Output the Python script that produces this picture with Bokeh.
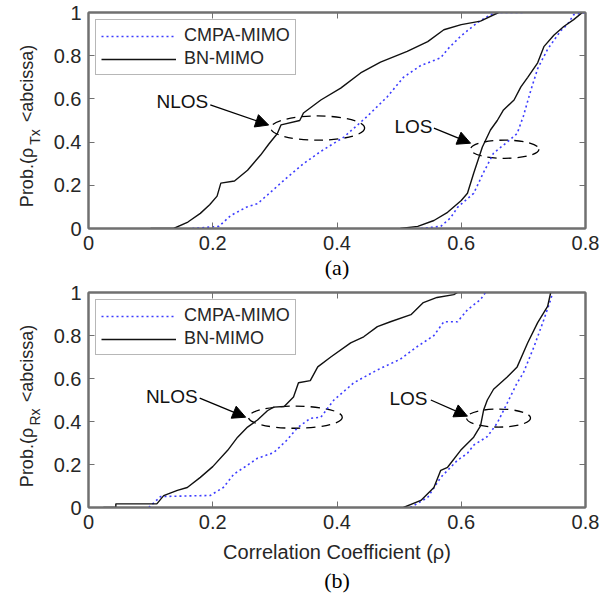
import math
from bokeh.plotting import figure
from bokeh.layouts import column, row
from bokeh.models import (LinearAxis, FixedTicker, Legend, LegendItem, Label,
                          Arrow, NormalHead, Title, Range1d)
from bokeh.core.properties import value
from bokeh.embed import file_html
from bokeh.resources import INLINE

# ---------------- data ----------------
x_ticks = [0, 0.2, 0.4, 0.6, 0.8]
y_ticks = [0, 0.2, 0.4, 0.6, 0.8, 1]
series_names = ["CMPA-MIMO", "BN-MIMO"]

# (a) Tx correlation CDFs
a_nlos_bn_x = [0.10, 0.137, 0.16, 0.18, 0.195, 0.207, 0.213, 0.235, 0.256, 0.277, 0.29, 0.304, 0.31,
               0.34, 0.346, 0.374, 0.406, 0.438, 0.47, 0.513, 0.546, 0.572, 0.60, 0.631, 0.66]
a_nlos_bn_y = [0, 0, 0.03, 0.07, 0.11, 0.15, 0.21, 0.22, 0.27, 0.34, 0.39, 0.44, 0.48,
               0.50, 0.535, 0.595, 0.65, 0.72, 0.77, 0.82, 0.865, 0.92, 0.944, 0.96, 1.0]
a_nlos_cm_x = [0.167, 0.21, 0.229, 0.255, 0.272, 0.288, 0.32, 0.346, 0.374, 0.411, 0.449, 0.481,
               0.507, 0.535, 0.567, 0.578, 0.599, 0.626, 0.647, 0.663, 0.70]
a_nlos_cm_y = [0, 0.01, 0.06, 0.10, 0.115, 0.155, 0.237, 0.30, 0.357, 0.423, 0.52, 0.61,
               0.70, 0.755, 0.79, 0.83, 0.89, 0.953, 0.99, 1.0, 1.0]
a_los_bn_x = [0.502, 0.53, 0.556, 0.578, 0.60, 0.61, 0.62, 0.634, 0.647, 0.658, 0.668, 0.685,
              0.696, 0.707, 0.723, 0.733, 0.749, 0.765, 0.781, 0.795]
a_los_bn_y = [0, 0.01, 0.037, 0.075, 0.13, 0.163, 0.256, 0.377, 0.456, 0.50, 0.549, 0.595,
              0.656, 0.70, 0.767, 0.842, 0.895, 0.935, 0.967, 1.0]
a_los_cm_x = [0.535, 0.567, 0.583, 0.594, 0.62, 0.636, 0.652, 0.674, 0.69, 0.70, 0.712, 0.723,
              0.739, 0.76, 0.771, 0.781, 0.80]
a_los_cm_y = [0, 0.01, 0.05, 0.098, 0.163, 0.26, 0.349, 0.40, 0.44, 0.52, 0.64, 0.74,
              0.83, 0.915, 0.945, 0.99, 1.0]

# (b) Rx correlation CDFs
b_nlos_bn_x = [0.024, 0.044, 0.044, 0.11, 0.121, 0.143, 0.159, 0.18, 0.20, 0.224, 0.24, 0.256,
               0.272, 0.288, 0.298, 0.315, 0.33, 0.338, 0.357, 0.369, 0.39, 0.422, 0.443, 0.465,
               0.486, 0.519, 0.539, 0.561, 0.588, 0.594]
b_nlos_bn_y = [0, 0, 0.017, 0.017, 0.055, 0.08, 0.093, 0.14, 0.19, 0.266, 0.327, 0.374,
               0.407, 0.45, 0.467, 0.47, 0.514, 0.58, 0.59, 0.654, 0.70, 0.766, 0.794, 0.841,
               0.864, 0.897, 0.953, 0.977, 0.99, 1.0]
b_nlos_cm_x = [0.097, 0.116, 0.196, 0.217, 0.234, 0.255, 0.272, 0.298, 0.32, 0.336, 0.357, 0.374,
               0.395, 0.427, 0.465, 0.502, 0.53, 0.556, 0.572, 0.594, 0.61, 0.631, 0.639]
b_nlos_cm_y = [0, 0.051, 0.056, 0.093, 0.155, 0.195, 0.229, 0.255, 0.315, 0.37, 0.415, 0.42,
               0.50, 0.58, 0.64, 0.69, 0.75, 0.80, 0.864, 0.864, 0.92, 0.967, 1.0]
b_los_bn_x = [0.507, 0.535, 0.556, 0.567, 0.578, 0.599, 0.62, 0.631, 0.636, 0.642, 0.652, 0.674,
              0.69, 0.707, 0.723, 0.739, 0.744]
b_los_bn_y = [0, 0.033, 0.093, 0.173, 0.187, 0.266, 0.327, 0.38, 0.453, 0.50, 0.55, 0.607,
              0.654, 0.766, 0.86, 0.935, 1.0]
b_los_cm_x = [0.518, 0.546, 0.567, 0.594, 0.61, 0.62, 0.642, 0.658, 0.674, 0.69, 0.70, 0.717,
              0.733, 0.744, 0.747]
b_los_cm_y = [0, 0.047, 0.14, 0.22, 0.252, 0.29, 0.33, 0.393, 0.486, 0.58, 0.626, 0.747,
              0.874, 0.967, 1.0]

# annotations: ellipses (x, y, w, h), label (x, y), arrow (x0, y0, x1, y1)
a_ell_nlos = (0.369, 0.465, 0.151, 0.112)
a_ell_los = (0.67, 0.367, 0.11, 0.084)
b_ell_nlos = (0.333, 0.42, 0.151, 0.103)
b_ell_los = (0.66, 0.416, 0.103, 0.084)
a_txt_nlos = (0.151, 0.586)
a_txt_los = (0.523, 0.47)
b_txt_nlos = (0.134, 0.514)
b_txt_los = (0.515, 0.509)
a_arr_nlos = (0.196, 0.572, 0.29, 0.479)
a_arr_los = (0.556, 0.465, 0.615, 0.395)
b_arr_nlos = (0.179, 0.509, 0.253, 0.42)
b_arr_los = (0.551, 0.50, 0.61, 0.425)

FONT = "Liberation Sans"
AX_COL = "#707070"
TXT_COL = "#262626"
BLUE = "#3c3cff"
LAB_W = 45


def make_ylabel(height, sub):
    """Narrow text-only figure carrying the rotated y label with its subscript."""
    f = figure(frame_width=LAB_W, frame_height=height, output_backend="svg",
               toolbar_location=None,
               x_range=Range1d(0, LAB_W), y_range=Range1d(0, height),
               x_axis_type=None, y_axis_type=None, min_border=0,
               min_border_left=0, min_border_right=0, min_border_top=0, min_border_bottom=0)
    f.grid.visible = False
    f.outline_line_color = None
    ang = math.pi / 2
    pieces = [("Prob.(ρ", 26, 165, "18px"), (sub, 34.5, 124.5, "14px"),
              ("<abcissa)", 26, 71, "18px")]
    for txt, xc, yc, fs in pieces:
        f.text(x=[xc], y=[height - yc], text=[txt], angle=ang, text_align="center",
               text_baseline="middle", text_font=value(FONT), text_font_size=value(fs),
               text_color=TXT_COL)
    return f


def make_panel(height, border_bottom, nlos_bn, nlos_cm, los_bn, los_cm,
               ell_n, ell_l, txt_n, txt_l, arr_n, arr_l, caption, xlabel):
    p = figure(width=600 - LAB_W, height=height, output_backend="svg", toolbar_location=None,
               x_range=Range1d(0, 0.8), y_range=Range1d(0, 1),
               min_border_left=88 - LAB_W, min_border_right=15, min_border_top=12,
               min_border_bottom=border_bottom)
    p.grid.visible = False
    p.outline_line_color = AX_COL
    p.outline_line_width = 2
    p.background_fill_color = "white"
    p.border_fill_color = "white"

    for ax in (p.xaxis[0], p.yaxis[0]):
        ax.axis_line_color = AX_COL
        ax.axis_line_width = 2
        ax.major_tick_line_color = AX_COL
        ax.major_tick_in = 6
        ax.major_tick_out = 0
        ax.minor_tick_line_color = None
        ax.major_label_text_font = FONT
        ax.major_label_text_font_size = "20px"
        ax.major_label_text_color = TXT_COL
        ax.major_label_standoff = 7
    p.xaxis[0].ticker = FixedTicker(ticks=x_ticks)
    p.yaxis[0].ticker = FixedTicker(ticks=y_ticks)
    p.xaxis[0].major_label_overrides = {0: "0"}
    p.yaxis[0].major_label_overrides = {0: "0", 1: "1"}
    if xlabel:
        p.xaxis[0].axis_label = xlabel
        p.xaxis[0].axis_label_text_font = FONT
        p.xaxis[0].axis_label_text_font_size = "20px"
        p.xaxis[0].axis_label_text_font_style = "normal"
        p.xaxis[0].axis_label_text_color = TXT_COL
        p.xaxis[0].axis_label_standoff = 9

    # mirrored ticks (top and right), no labels
    for side, ticks in (("above", x_ticks), ("right", y_ticks)):
        ax = LinearAxis(ticker=FixedTicker(ticks=ticks))
        ax.axis_line_color = AX_COL
        ax.axis_line_width = 2
        ax.major_tick_line_color = AX_COL
        ax.major_tick_in = 6
        ax.major_tick_out = 0
        ax.minor_tick_line_color = None
        ax.major_label_text_font_size = "0px"
        ax.major_label_text_color = None
        ax.major_label_standoff = 0
        p.add_layout(ax, side)

    # ellipses
    for e in (ell_n, ell_l):
        p.ellipse(x=[e[0]], y=[e[1]], width=[e[2]], height=[e[3]], fill_color=None,
                  line_color="black", line_dash="9 6", line_width=1.3)

    # curves
    r_cm = p.line(nlos_cm[0], nlos_cm[1], line_color=BLUE, line_dash="2 3", line_width=1.6)
    p.line(los_cm[0], los_cm[1], line_color=BLUE, line_dash="2 3", line_width=1.6)
    r_bn = p.line(nlos_bn[0], nlos_bn[1], line_color="#111111", line_width=1.4)
    p.line(los_bn[0], los_bn[1], line_color="#111111", line_width=1.4)

    # arrows and labels
    for a in (arr_n, arr_l):
        p.add_layout(Arrow(end=NormalHead(size=13, fill_color="black", line_color="black"),
                           x_start=a[0], y_start=a[1], x_end=a[2], y_end=a[3],
                           line_color="black", line_width=1.3))
    for t, s in ((txt_n, "NLOS"), (txt_l, "LOS")):
        p.add_layout(Label(x=t[0], y=t[1], text=s, text_align="center", text_baseline="middle",
                           text_font=FONT, text_font_size="19px", text_color="#111111"))

    legend = Legend(items=[LegendItem(label=series_names[0], renderers=[r_cm]),
                           LegendItem(label=series_names[1], renderers=[r_bn])],
                    location="top_left", margin=7, padding=5, spacing=2,
                    glyph_width=75, glyph_height=20, label_height=20, label_standoff=8,
                    label_text_font=FONT, label_text_font_size="18px", label_text_color=TXT_COL,
                    border_line_color=AX_COL, border_line_width=1.5,
                    background_fill_color="white", background_fill_alpha=1)
    p.add_layout(legend)

    p.add_layout(Title(text=caption, align="center", text_font="Liberation Serif",
                       text_font_size="22px", text_font_style="normal", text_color="black",
                       standoff=0, offset=0), "below")
    return p


p1 = make_panel(280, 52, (a_nlos_bn_x, a_nlos_bn_y), (a_nlos_cm_x, a_nlos_cm_y),
                (a_los_bn_x, a_los_bn_y), (a_los_cm_x, a_los_cm_y),
                a_ell_nlos, a_ell_los, a_txt_nlos, a_txt_los, a_arr_nlos, a_arr_los,
                "(a)", None)
p2 = make_panel(318, 91, (b_nlos_bn_x, b_nlos_bn_y), (b_nlos_cm_x, b_nlos_cm_y),
                (b_los_bn_x, b_los_bn_y), (b_los_cm_x, b_los_cm_y),
                b_ell_nlos, b_ell_los, b_txt_nlos, b_txt_los, b_arr_nlos, b_arr_los,
                "(b)", "Correlation Coefficient (ρ)")
l1 = make_ylabel(280, "Tx")
l2 = make_ylabel(318, "Rx")

layout = column(row(l1, p1, spacing=0), row(l2, p2, spacing=0), spacing=0)
open("out.html", "w").write(file_html(layout, INLINE))
